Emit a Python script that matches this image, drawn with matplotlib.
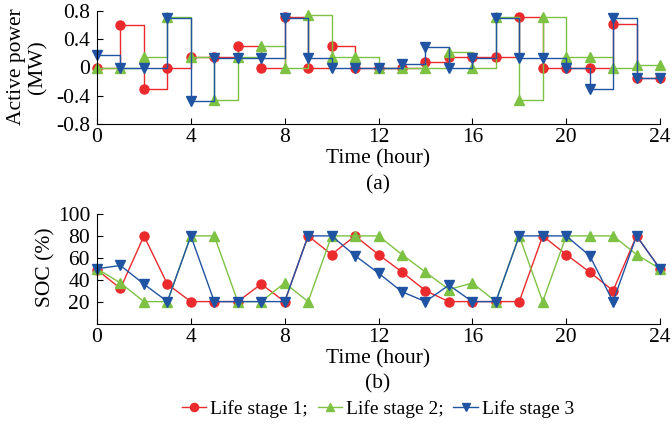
import matplotlib

matplotlib.use("Agg")
import matplotlib.pyplot as plt
import numpy as np

plt.rcParams["font.family"] = ["Liberation Serif", "DejaVu Serif"]
plt.rcParams["font.size"] = 15.5

hours = np.arange(0, 25)

# active power (MW), steps-post
power_stage1 = [0, 0.6, -0.3, 0, 0.15, 0.15, 0.3, 0, 0.71, 0, 0.3, 0, 0,
                0, 0.08, 0.15, 0.15, 0.15, 0.72, 0, 0, 0, 0.61, -0.15, -0.15]
power_stage2 = [0, 0, 0.15, 0.72, 0.15, -0.46, 0.15, 0.3, 0, 0.74, 0.15, 0.15, 0,
                0, 0, 0.22, 0, 0.72, -0.46, 0.72, 0.15, 0.15, 0, 0.04, 0.04]
power_stage3 = [0.18, 0, 0, 0.7, -0.48, 0.14, 0.14, 0.14, 0.7, 0.14, 0, 0, 0,
                0.05, 0.29, 0, 0.14, 0.7, 0.14, 0.14, 0, -0.3, 0.7, -0.15, -0.15]

# state of charge (%)
soc_stage1 = [49, 32, 80, 36, 20, 20, 20, 36, 20, 80, 63, 80, 63,
              47, 30, 20, 20, 20, 20, 80, 63, 47, 30, 80, 50]
soc_stage2 = [50, 37, 20, 20, 80, 80, 20, 20, 37, 20, 80, 80, 80,
              63, 47, 31, 37, 20, 80, 20, 80, 80, 80, 63, 50]
soc_stage3 = [50, 53, 36, 20, 80, 20, 20, 20, 20, 80, 80, 62, 46,
              29, 20, 35, 20, 20, 80, 80, 80, 62, 20, 80, 50]

labels = ["Life stage 1;", "Life stage 2;", "Life stage 3"]
colors = ["#ea2a2c", "#7dc243", "#2054a3"]
markers = ["o", "^", "v"]

fig = plt.figure(figsize=(6.72, 4.26), dpi=100)
ax1 = fig.add_axes([97 / 672, 1 - 124 / 426, 563 / 672, 113 / 426])
ax2 = fig.add_axes([97 / 672, 1 - 323.5 / 426, 563 / 672, 109.5 / 426])

for vals, c, m in zip([power_stage1, power_stage2, power_stage3], colors, markers):
    ax1.plot(hours, vals, drawstyle="steps-post", color=c, lw=1.0)
    ax1.plot(hours, vals, ls="none", marker=m, color=c, ms=6.5)

handles = []
for vals, c, m, lab in zip([soc_stage1, soc_stage2, soc_stage3], colors, markers, labels):
    (h,) = ax2.plot(hours, vals, color=c, lw=1.0, marker=m, ms=6.5, label=lab)
    handles.append(h)

ax1.set_ylim(-0.8, 0.8)
ax1.set_yticks([-0.8, -0.4, 0, 0.4, 0.8])
ax1.set_yticklabels(["-0.8", "-0.4", "0", "0.4", "0.8"])
ax2.set_ylim(0, 100)
ax2.set_yticks([20, 40, 60, 80, 100])

for ax in (ax1, ax2):
    ax.set_xlim(0, 24)
    ax.set_xticks(np.arange(0, 25, 4))
    ax.spines["top"].set_visible(False)
    ax.spines["right"].set_visible(False)
    ax.tick_params(direction="in", length=4, width=0.8)
    ax.tick_params(axis="x", pad=3)
    ax.tick_params(axis="y", pad=5)
    for ln in ax.lines:
        ln.set_clip_on(False)

fig.text(27 / 672, 1 - 67 / 426, "Active power\n(MW)", rotation=90,
         ha="center", va="center", linespacing=1.15)
fig.text(46 / 672, 1 - 267 / 426, "SOC (%)", rotation=90, ha="center", va="center")
fig.text(378 / 672, 1 - 159 / 426, "Time (hour)", ha="center", va="center")
fig.text(378 / 672, 1 - 185 / 426, "(a)", ha="center", va="center")
fig.text(378 / 672, 1 - 359 / 426, "Time (hour)", ha="center", va="center")
fig.text(378 / 672, 1 - 384 / 426, "(b)", ha="center", va="center")

fig.legend(handles=handles, labels=labels, loc="center", ncol=3,
           bbox_to_anchor=(378 / 672, 1 - 409 / 426), frameon=False,
           fontsize=14, handlelength=1.25, handletextpad=0.2, columnspacing=0.5,
           borderpad=0, markerscale=0.9)

fig.savefig("out.png", dpi=100)
